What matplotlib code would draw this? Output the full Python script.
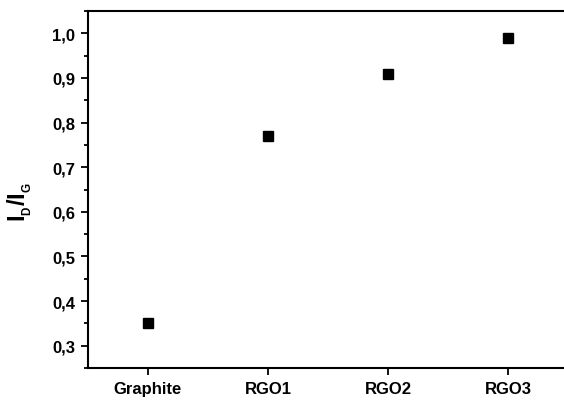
import matplotlib
matplotlib.use("Agg")
import matplotlib.pyplot as plt
from matplotlib.ticker import MultipleLocator, FuncFormatter

samples = ["Graphite", "RGO1", "RGO2", "RGO3"]
id_ig = [0.35, 0.77, 0.91, 0.99]

plt.rcParams['font.family'] = ['Liberation Sans', 'DejaVu Sans']
plt.rcParams['font.weight'] = 'bold'
plt.rcParams['mathtext.fontset'] = 'custom'
plt.rcParams['mathtext.rm'] = 'Liberation Sans:bold'
plt.rcParams['mathtext.it'] = 'Liberation Sans:bold'
plt.rcParams['mathtext.bf'] = 'Liberation Sans:bold'

fig = plt.figure(figsize=(5.64, 4.02), dpi=100)
ax = fig.add_axes([0.156, 0.082, 0.851, 0.888])

x = list(range(len(samples)))
ax.plot(x, id_ig, 's', color='black', markersize=7, linestyle='none')

ax.set_xlim(-0.5, 3.5)
ax.set_ylim(0.25, 1.05)
ax.set_xticks(x)
ax.set_xticklabels(samples)
ax.yaxis.set_major_locator(MultipleLocator(0.1))
ax.yaxis.set_minor_locator(MultipleLocator(0.05))
ax.yaxis.set_major_formatter(FuncFormatter(lambda v, p: f"{v:.1f}".replace('.', ',')))

for s in ax.spines.values():
    s.set_linewidth(1.5)
ax.tick_params(axis='both', which='major', direction='out', length=5, width=1.3,
               labelsize=12, pad=4)
ax.tick_params(axis='y', which='minor', direction='out', length=3, width=1.3)

# small, low subscripts like in the original
ax.set_ylabel(r'$\mathregular{I_{{}_D}/I_{{}_G}}$', fontsize=17, fontweight='bold')
ax.yaxis.set_label_coords(-0.112, 0.468)

fig.savefig("out.png", dpi=100)
